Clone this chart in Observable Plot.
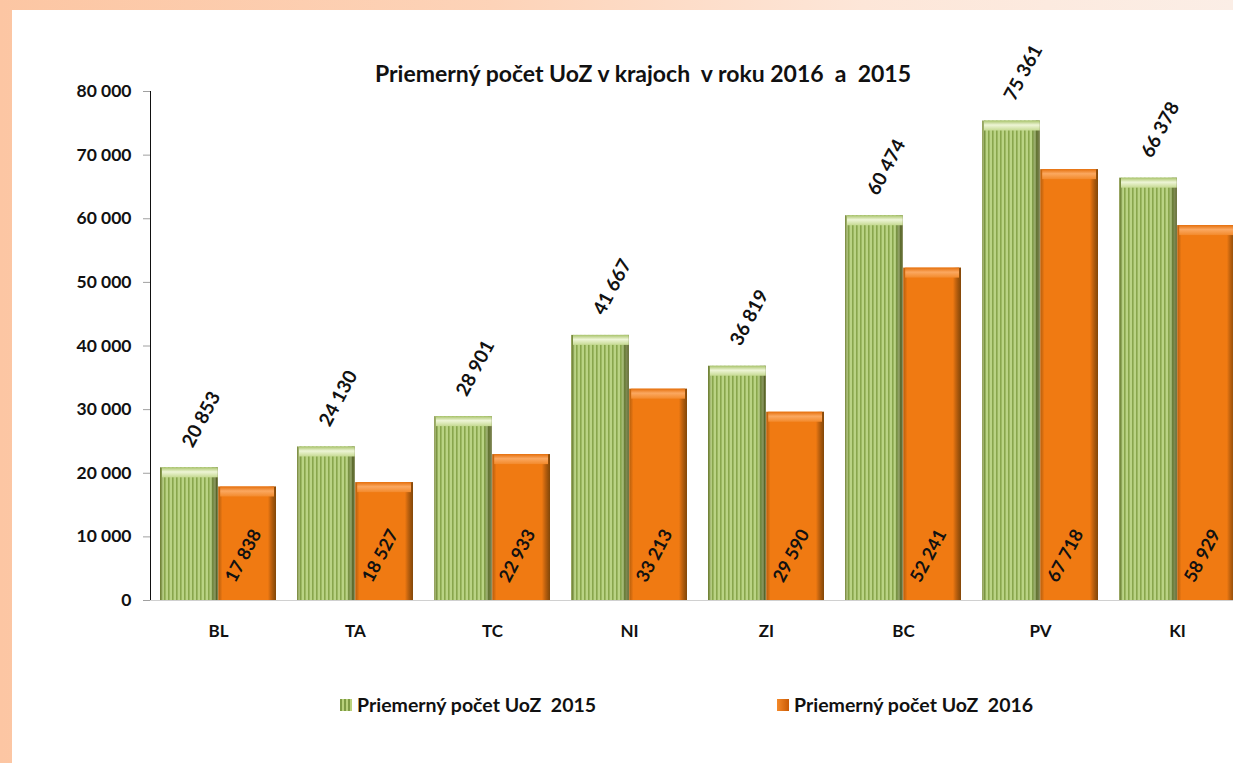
<!DOCTYPE html>
<html>
<head>
<meta charset="utf-8">
<script src="https://cdn.jsdelivr.net/npm/d3@7"></script>
<script src="https://cdn.jsdelivr.net/npm/@observablehq/plot@0.6"></script>
<style>
  html, body { margin: 0; padding: 0; width: 1233px; height: 763px; overflow: hidden; }
  body { background: linear-gradient(to right, #fcc6a3 0%, #fdd3b8 40%, #fde6d8 70%, #fbeee6 100%); position: relative; font-family: Lato, "Open Sans", sans-serif; }
  #panel { position: absolute; left: 12px; top: 10px; right: 0; bottom: 0; background: #ffffff; }
  #chart { position: absolute; left: 0; top: 0; }
  #chart svg { max-width: none !important; display: block; }
  g[aria-label^="y-axis"] line, g[aria-label^="y-axis"] path.domain, g[aria-label="y-axis tick"] path, g[aria-label="y-axis line"] line { stroke: #a0a0a0; }
  g[aria-label="x-axis tick label"] text, g[aria-label="x-axis"] text { font-size: 17px; }
  #title { position: absolute; left: 0; width: 1286px; top: 59px; text-align: center; font-size: 23px; font-weight: bold; white-space: pre; color: #111; }
  .leg { position: absolute; top: 693px; font-size: 19.5px; font-weight: bold; white-space: pre; color: #111; display: flex; align-items: center; }
  .sw { display: inline-block; width: 12px; height: 12px; margin-right: 5px; }
</style>
</head>
<body>
<div id="panel"></div>
<div id="chart"></div>
<div id="title">Priemerný počet UoZ v krajoch  v roku 2016  a  2015</div>
<div class="leg" style="left:340px"><span class="sw" style="background:repeating-linear-gradient(to right,#7f9c45 0 2px,#b9d27c 2px 4px)"></span>Priemerný počet UoZ  2015</div>
<div class="leg" style="left:777px"><span class="sw" style="background:linear-gradient(to right,#f58a2a,#c95a05)"></span>Priemerný počet UoZ  2016</div>
<script>
// ---- data ----
const kraje = ["BL", "TA", "TC", "NI", "ZI", "BC", "PV", "KI"];
const uoz2015 = [20853, 24130, 28901, 41667, 36819, 60474, 75361, 66378];
const uoz2016 = [17838, 18527, 22933, 33213, 29590, 52241, 67718, 58929];
const yTicks = [0, 10000, 20000, 30000, 40000, 50000, 60000, 70000, 80000];

const rows = kraje.map((k, i) => ({kraj: k, v2015: uoz2015[i], v2016: uoz2016[i]}));

const loc = d3.formatLocale({decimal: ",", thousands: "\u00a0", grouping: [3], currency: ["", ""]});
const fmt = loc.format(",d");

const W = 1233, H = 763;
const xRange = [150, 1246];
const padIn = 0.15, padOut = 0.075;
const step = (xRange[1] - xRange[0]) / (kraje.length - padIn + 2 * padOut);
const bw = step * (1 - padIn);
const half = bw / 2;
const FONT = "Lato, 'Open Sans', sans-serif";

const plot = Plot.plot({
  width: W,
  height: H,
  marginTop: 91,
  marginBottom: 163,
  marginLeft: 150,
  marginRight: 0,
  style: {background: "transparent", fontFamily: FONT, fontSize: "17.5px", fontWeight: "bold", color: "#111"},
  x: {domain: kraje, range: xRange, paddingInner: padIn, paddingOuter: padOut, align: 0.5, tickSize: 0, tickPadding: 24, label: null},
  y: {domain: [0, 80000], ticks: yTicks, tickFormat: fmt, tickSize: 7, tickPadding: 12, label: null, line: true},
  marks: [
    Plot.ruleY([0], {stroke: "#d0d0d0"}),
    // 2015 bars (green, striped)
    Plot.barY(rows, {x: "kraj", y: "v2015", fill: "url(#gStripes)", insetRight: half}),
    Plot.barY(rows, {x: "kraj", y: "v2015", fill: "url(#shadeH)", insetRight: half}),
    Plot.barY(rows, {x: "kraj", y1: "v2015", y2: "v2015", insetBottom: -10, fill: "url(#gBevel)", insetRight: half, insetLeft: 2}),
    // 2016 bars (orange)
    Plot.barY(rows, {x: "kraj", y: "v2016", fill: "#f07a12", insetLeft: half}),
    Plot.barY(rows, {x: "kraj", y: "v2016", fill: "url(#shadeH)", insetLeft: half}),
    Plot.barY(rows, {x: "kraj", y1: "v2016", y2: "v2016", insetBottom: -10, fill: "url(#oBevel)", insetLeft: half + 2, insetRight: 2}),
    // labels
    Plot.text(rows, {x: "kraj", y: "v2015", text: d => fmt(d.v2015), rotate: -62, textAnchor: "start",
      dx: -bw / 4 - 2, dy: -22, fontSize: 19, fontWeight: "bold", fontFamily: FONT, fill: "#111"}),
    Plot.text(rows, {x: "kraj", frameAnchor: "bottom", text: d => fmt(d.v2016), rotate: -62, textAnchor: "middle",
      dx: bw / 4 + 1, dy: -42, fontSize: 18, fontWeight: "bold", fontFamily: FONT, fill: "#111"})
  ]
});

// gradient / pattern definitions used as fills
const svg = d3.select(plot);
const defs = svg.insert("defs", ":first-child");
const pat = defs.append("pattern").attr("id", "gStripes").attr("patternUnits", "userSpaceOnUse")
  .attr("width", 4).attr("height", 10);
pat.append("rect").attr("width", 4).attr("height", 10).attr("fill", "#bad384");
pat.append("rect").attr("width", 1.6).attr("height", 10).attr("fill", "#89a64c");

const sh = defs.append("linearGradient").attr("id", "shadeH").attr("x1", 0).attr("x2", 1).attr("y1", 0).attr("y2", 0);
[[0, "rgba(60,40,0,0.30)"], [0.07, "rgba(0,0,0,0)"], [0.86, "rgba(0,0,0,0)"], [1, "rgba(40,30,0,0.55)"]]
  .forEach(([o, c]) => sh.append("stop").attr("offset", o).attr("stop-color", c));

const gb = defs.append("linearGradient").attr("id", "gBevel").attr("x1", 0).attr("x2", 0).attr("y1", 0).attr("y2", 1);
[[0, "#a8c36a"], [0.45, "#eef5d6"], [1, "#c6da93"]].forEach(([o, c]) => gb.append("stop").attr("offset", o).attr("stop-color", c));
const ob = defs.append("linearGradient").attr("id", "oBevel").attr("x1", 0).attr("x2", 0).attr("y1", 0).attr("y2", 1);
[[0, "#e56f0c"], [0.45, "#fba860"], [1, "#f38a2c"]].forEach(([o, c]) => ob.append("stop").attr("offset", o).attr("stop-color", c));

document.getElementById("chart").appendChild(plot);
</script>
</body>
</html>
